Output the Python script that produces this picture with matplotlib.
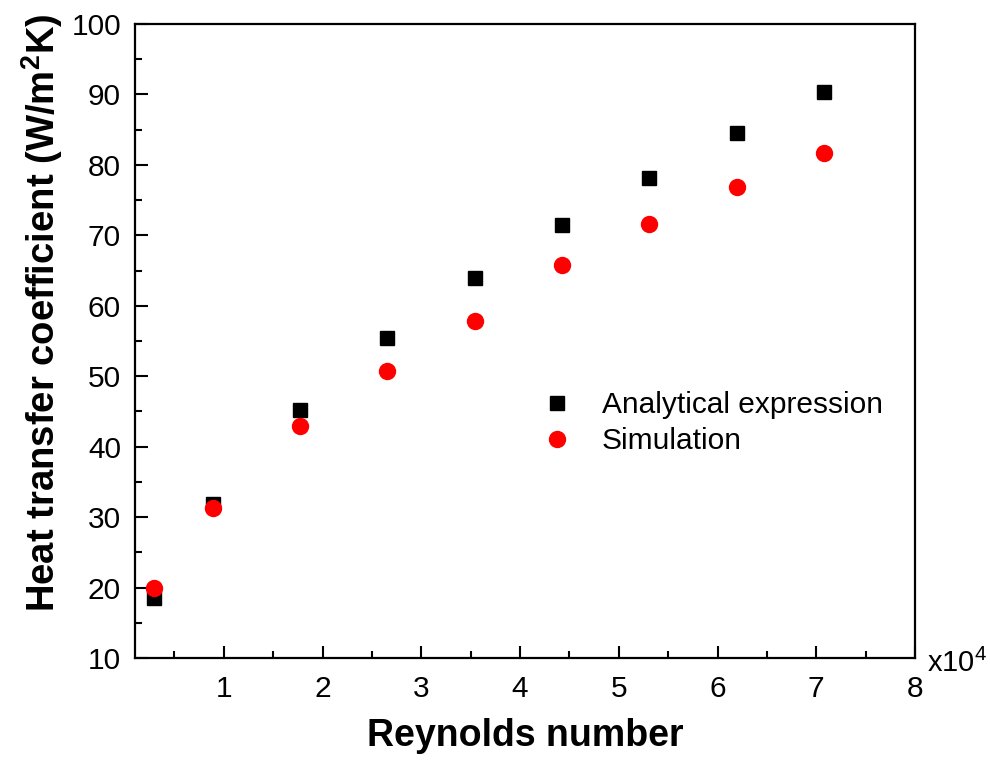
import numpy as np
import matplotlib
matplotlib.use("Agg")
import matplotlib.pyplot as plt
from matplotlib.ticker import MultipleLocator

plt.rcParams['font.family'] = ['Liberation Sans', 'DejaVu Sans']
plt.rcParams['mathtext.default'] = 'regular'

# Reynolds number (x10^4) and heat transfer coefficient (W/m2K)
reynolds = [0.295, 0.885, 1.77, 2.655, 3.54, 4.425, 5.31, 6.195, 7.08]
h_analytical = [18.5, 31.9, 45.2, 55.4, 63.9, 71.4, 78.2, 84.5, 90.3]
h_simulation = [19.9, 31.3, 42.9, 50.7, 57.8, 65.8, 71.6, 76.8, 81.7]

fig = plt.figure(figsize=(9.9, 7.67), dpi=100)
ax = fig.add_axes([135/990, 109/767, 780/990, 634/767])

ax.plot(reynolds, h_analytical, 's', color='black', markersize=10.5, label='Analytical expression')
ax.plot(reynolds, h_simulation, 'o', color='#ff0000', markersize=11.5, label='Simulation')

ax.set_xlim(0.1, 8)
ax.set_ylim(10, 100)
ax.xaxis.set_major_locator(MultipleLocator(1))
ax.xaxis.set_minor_locator(MultipleLocator(0.5))
ax.yaxis.set_major_locator(MultipleLocator(10))
ax.yaxis.set_minor_locator(MultipleLocator(5))
ax.tick_params(which='both', direction='in', top=False, right=False, width=1.5, labelsize=21.5)
ax.tick_params(which='major', length=9)
ax.tick_params(axis='y', which='major', pad=10)
ax.tick_params(axis='x', which='major', pad=12)
ax.tick_params(which='minor', length=5)
for s in ax.spines.values():
    s.set_linewidth(1.6)

fig.text(42/990, (767-313)/767, r'Heat transfer coefficient (W/m$^2$K)',
         rotation=90, ha='center', va='center', fontsize=27.5, fontweight='bold')
fig.text(525/990, (767-736)/767, 'Reynolds number',
         ha='center', va='center', fontsize=27, fontweight='bold')
fig.text(927/990, (767-672)/767, r'x10$^4$', ha='left', va='baseline', fontsize=21)

ax.legend(loc='upper left', bbox_to_anchor=(542/990, (767-391)/767),
          bbox_transform=fig.transFigure, frameon=False, fontsize=21.5,
          handlelength=1.0, handletextpad=1.0, borderpad=0, borderaxespad=0,
          labelspacing=0.28)

fig.savefig('out.png', dpi=100)
